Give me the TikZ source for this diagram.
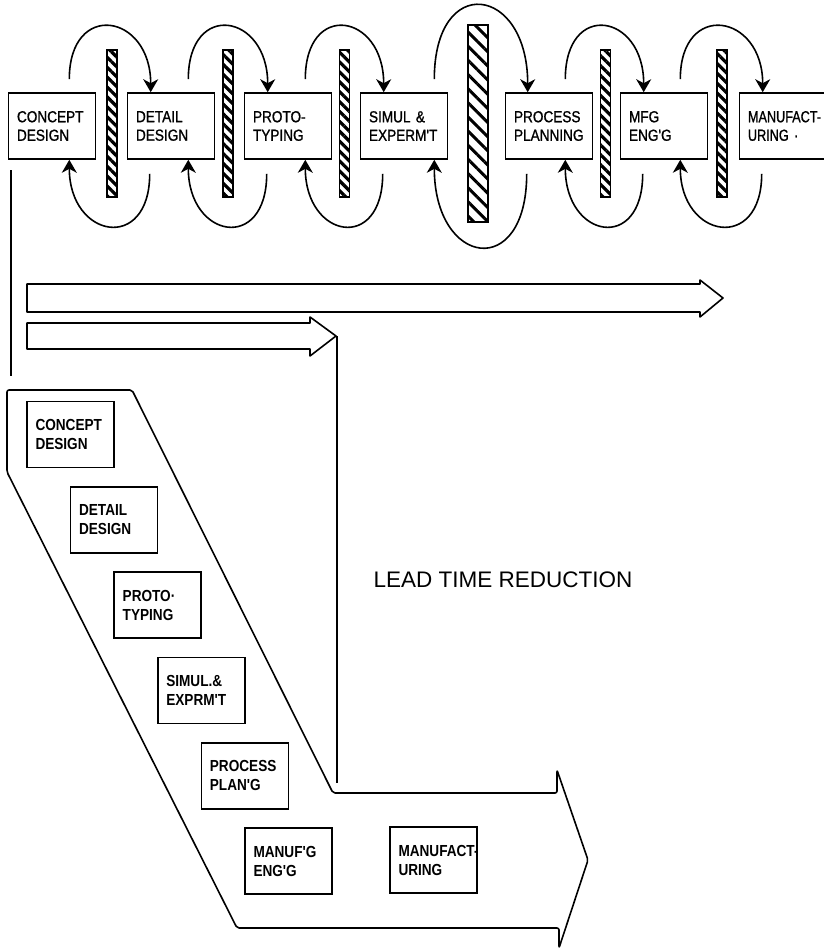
\documentclass[tikz,border=0pt]{standalone}
\usepackage{fontspec}
\setmainfont{Liberation Sans}
\newfontfamily\boxfont[FakeStretch=0.85]{Liberation Sans}
\newfontfamily\rowfont[FakeStretch=0.85, FakeBold=1]{Liberation Sans}
\newfontfamily\narrowfont[FakeStretch=0.79, FakeBold=1]{Liberation Sans}
\usetikzlibrary{arrows.meta,calc,patterns.meta}

\begin{document}
\begin{tikzpicture}[x=1pt,y=1pt,
  stage/.style={draw, line width=1.6pt, minimum width=87, minimum height=66,
    inner xsep=8, text width=70, align=left,
    font=\rowfont\fontsize{16}{18.5}\selectfont},
  lowstage/.style={stage, font=\boxfont\bfseries\fontsize{16}{19}\selectfont},
  wall/.style={draw, line width=1.4pt, inner sep=0, minimum width=10, minimum height=147,
    pattern={Lines[angle=-45, distance=7pt, line width=3.2pt]}},
  bigwall/.style={wall, minimum width=20, minimum height=197,
    pattern={Lines[angle=-45, distance=10pt, line width=3pt]}},
  flow/.style={line width=1.6pt, -{Stealth[length=13pt, width=15pt, inset=4pt]}},
  outline/.style={draw, line width=1.6pt, line join=round},
  plain/.style={line width=1.6pt}
]
\useasboundingbox (0,0) rectangle (824,-950);

% sequential stages with their hand-over walls
\node[stage] (t1) at (52,-126)  {CONCEPT\\DESIGN};
\node[stage] (t2) at (171,-126) {DETAIL\\DESIGN};
\node[stage] (t3) at (288,-126) {PROTO-\\TYPING};
\node[stage] (t4) at (404,-126) {SIMUL \&\\EXPERM'T};
\node[stage] (t5) at (549,-126) {PROCESS\\PLANNING};
\node[stage] (t6) at (664,-126) {MFG\\ENG'G};
\node[stage, inner xsep=5, font=\narrowfont\fontsize{16}{18.5}\selectfont]
      (t7) at (783,-126) {\mbox{MANUFACT-}\\URING ·};

\node[wall] (b1) at (112,-123.5) {};
\node[wall] (b2) at (228,-123.5) {};
\node[wall] (b3) at (344.5,-123.5) {};
\node[bigwall] (b4) at (478,-123.5) {};
\node[wall] (b5) at (605.5,-123.5) {};
\node[wall] (b6) at (722,-123.5) {};

% forward and feedback loops over each wall
\foreach \a/\b/\l/\r/\h in {t1/t2/27/24/79, t2/t3/27/24/79, t3/t4/27/24/79,
                            t4/t5/14/23/107, t5/t6/28/24/79, t6/t7/28/24/79}{
  \draw[flow] ($(\a.north east)+(-\l,13)$) .. controls +(0,\h) and +(0,\h) ..
              ($(\b.north west)+(\r,0)$);
  \draw[flow] ($(\b.south west)+(\r-1,-14)$) .. controls +(0,-\h) and +(0,-\h) ..
              ($(\a.south east)+(-\l,0)$);
}

% time bars
\draw[outline] (27,-284) -- (700,-284) -- (700,-280) -- (723,-298) -- (700,-317)
               -- (700,-312) -- (27,-312) -- cycle;
\draw[outline] (27,-323) -- (310,-323) -- (310,-317) -- (336,-336) -- (310,-356)
               -- (310,-349) -- (27,-349) -- cycle;
\coordinate (tip2) at (337,-336);
\coordinate (inner) at (337,-783);
\coordinate (leftstart) at (11,-170);
\coordinate (leftend) at (11,-376);
\draw[plain] (leftstart) -- (leftend);
\draw[plain] (tip2) -- (inner);

% overlapped stages inside the large arrow
\draw[outline, rounded corners=2] (7,-472) -- (7,-390) -- (132,-390) -- (333,-793)
   -- (557,-793) -- (557,-770) -- (588,-860) -- (559,-948) -- (559,-928)
   -- (237,-928) -- cycle;

\node[lowstage] (l1) at (70.5,-434.5) {CONCEPT\\DESIGN};
\node[lowstage] (l2) at (114.1,-519.8) {DETAIL\\DESIGN};
\node[lowstage] (l3) at (157.7,-605.1) {PROTO·\\TYPING};
\node[lowstage] (l4) at (201.3,-690.4) {SIMUL.\&\\EXPRM'T};
\node[lowstage] (l5) at (244.9,-775.7) {PROCESS\\PLAN'G};
\node[lowstage] (l6) at (288.5,-861)   {MANUF'G\\ENG'G};
\node[lowstage, inner xsep=5] (l7) at (433.5,-860) {\mbox{MANUFACT-}\\URING};

\node[font=\fontsize{22.5}{26}\selectfont] (gain) at (503,-580) {LEAD TIME REDUCTION};
\end{tikzpicture}
\end{document}
